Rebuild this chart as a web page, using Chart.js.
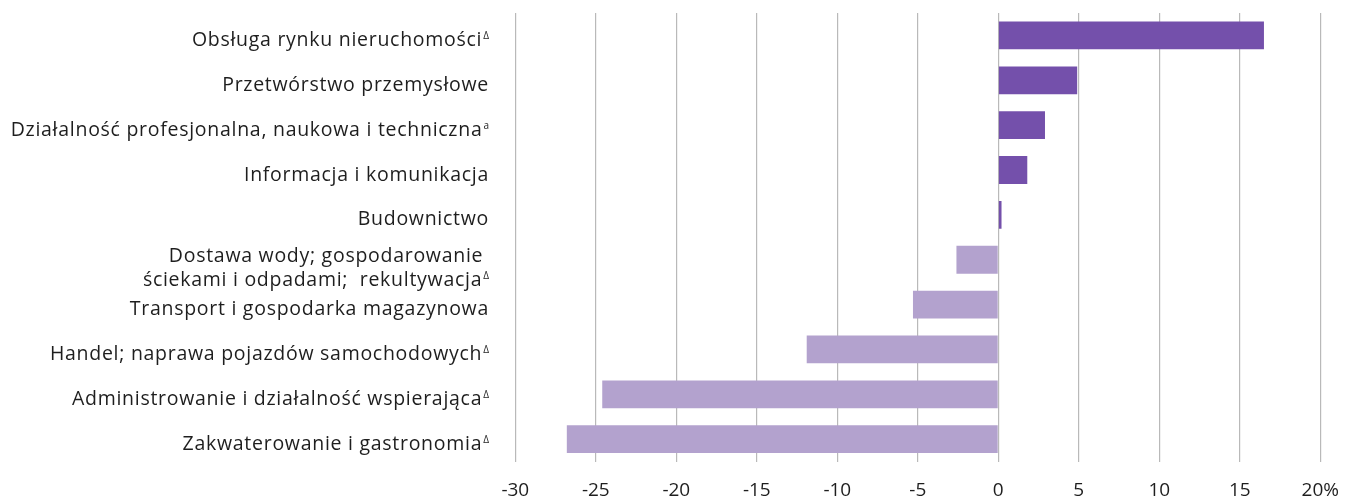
<!DOCTYPE html>
<html><head><meta charset="utf-8">
<script src="https://cdn.jsdelivr.net/npm/chart.js@4"></script>
<style>html,body{margin:0;padding:0;background:#fff}#w{width:1348px;height:496px}</style>
</head><body><div id="w"><canvas id="c"></canvas></div>
<script>
const categories = [
  "Obsługa rynku nieruchomości",
  "Przetwórstwo przemysłowe",
  "Działalność profesjonalna, naukowa i techniczna",
  "Informacja i komunikacja",
  "Budownictwo",
  ["Dostawa wody; gospodarowanie ", "ściekami i odpadami;  rekultywacja"],
  "Transport i gospodarka magazynowa",
  "Handel; naprawa pojazdów samochodowych",
  "Administrowanie i działalność wspierająca",
  "Zakwaterowanie i gastronomia"
];
const footnotes = ["Δ", "", "a", "", "", "Δ", "", "Δ", "Δ", "Δ"];
const values = [16.5, 4.9, 2.9, 1.8, 0.2, -2.6, -5.3, -11.9, -24.6, -26.8];
const xTicks = [-30, -25, -20, -15, -10, -5, 0, 5, 10, 15, 20];
const posColor = '#7450AB';
const negColor = '#B3A2CE';

const FONT = 'Open Sans, sans-serif';
const LSIZE = 19.5;

const labelPlugin = {
  id: 'labels',
  afterDraw(chart) {
    const ctx = chart.ctx, s = chart.scales.y;
    const right = 489;
    ctx.save();
    ctx.fillStyle = '#1e1e1e';
    ctx.textBaseline = 'alphabetic';
    ctx.textAlign = 'right';
    categories.forEach((lab, i) => {
      const y = s.getPixelForTick(i);
      const lines = Array.isArray(lab) ? lab : [lab];
      const base = lines.length === 1 ? y + 10.5 : y + 2.3;
      lines.forEach((ln, j) => {
        const ly = base + j * 24.3;
        let x = right;
        if (j === lines.length - 1 && footnotes[i]) {
          ctx.letterSpacing = '0px';
          ctx.font = `10px ${FONT}`;
          ctx.fillText(footnotes[i], x, ly - 7);
          x -= ctx.measureText(footnotes[i]).width + 1;
        }
        ctx.letterSpacing = '0.72px';
        ctx.font = `${LSIZE}px ${FONT}`;
        ctx.fillText(ln, x, ly);
      });
    });
    ctx.restore();
  }
};

new Chart(document.getElementById('c'), {
  type: 'bar',
  data: {
    labels: categories,
    datasets: [{
      data: values,
      backgroundColor: values.map(v => v >= 0 ? posColor : negColor),
      borderWidth: 0,
      barPercentage: 0.62,
      categoryPercentage: 1
    }]
  },
  options: {
    indexAxis: 'y',
    responsive: true,
    maintainAspectRatio: false,
    animation: false,
    layout: { padding: { top: 13, right: 27.7, bottom: -23, left: 0 } },
    plugins: { legend: { display: false }, tooltip: { enabled: false } },
    scales: {
      x: {
        min: xTicks[0], max: xTicks[xTicks.length - 1],
        afterBuildTicks: s => { s.ticks = xTicks.map(v => ({ value: v })); },
        afterFit: s => { s.paddingLeft = 0; s.paddingRight = 0; },
        grid: { color: '#b9b9b9', lineWidth: 1.2, drawTicks: false },
        border: { display: false },
        ticks: {
          padding: 23,
          color: '#1e1e1e',
          font: { family: FONT, size: 19, lineHeight: 0.6 },
          callback: v => v === 20 ? '20%' : String(v)
        }
      },
      y: {
        grid: { display: false, drawTicks: false },
        border: { display: false },
        afterFit: s => { s.width = 515.3; },
        ticks: { display: false, autoSkip: false }
      }
    }
  },
  plugins: [labelPlugin]
});
</script>
</body></html>
